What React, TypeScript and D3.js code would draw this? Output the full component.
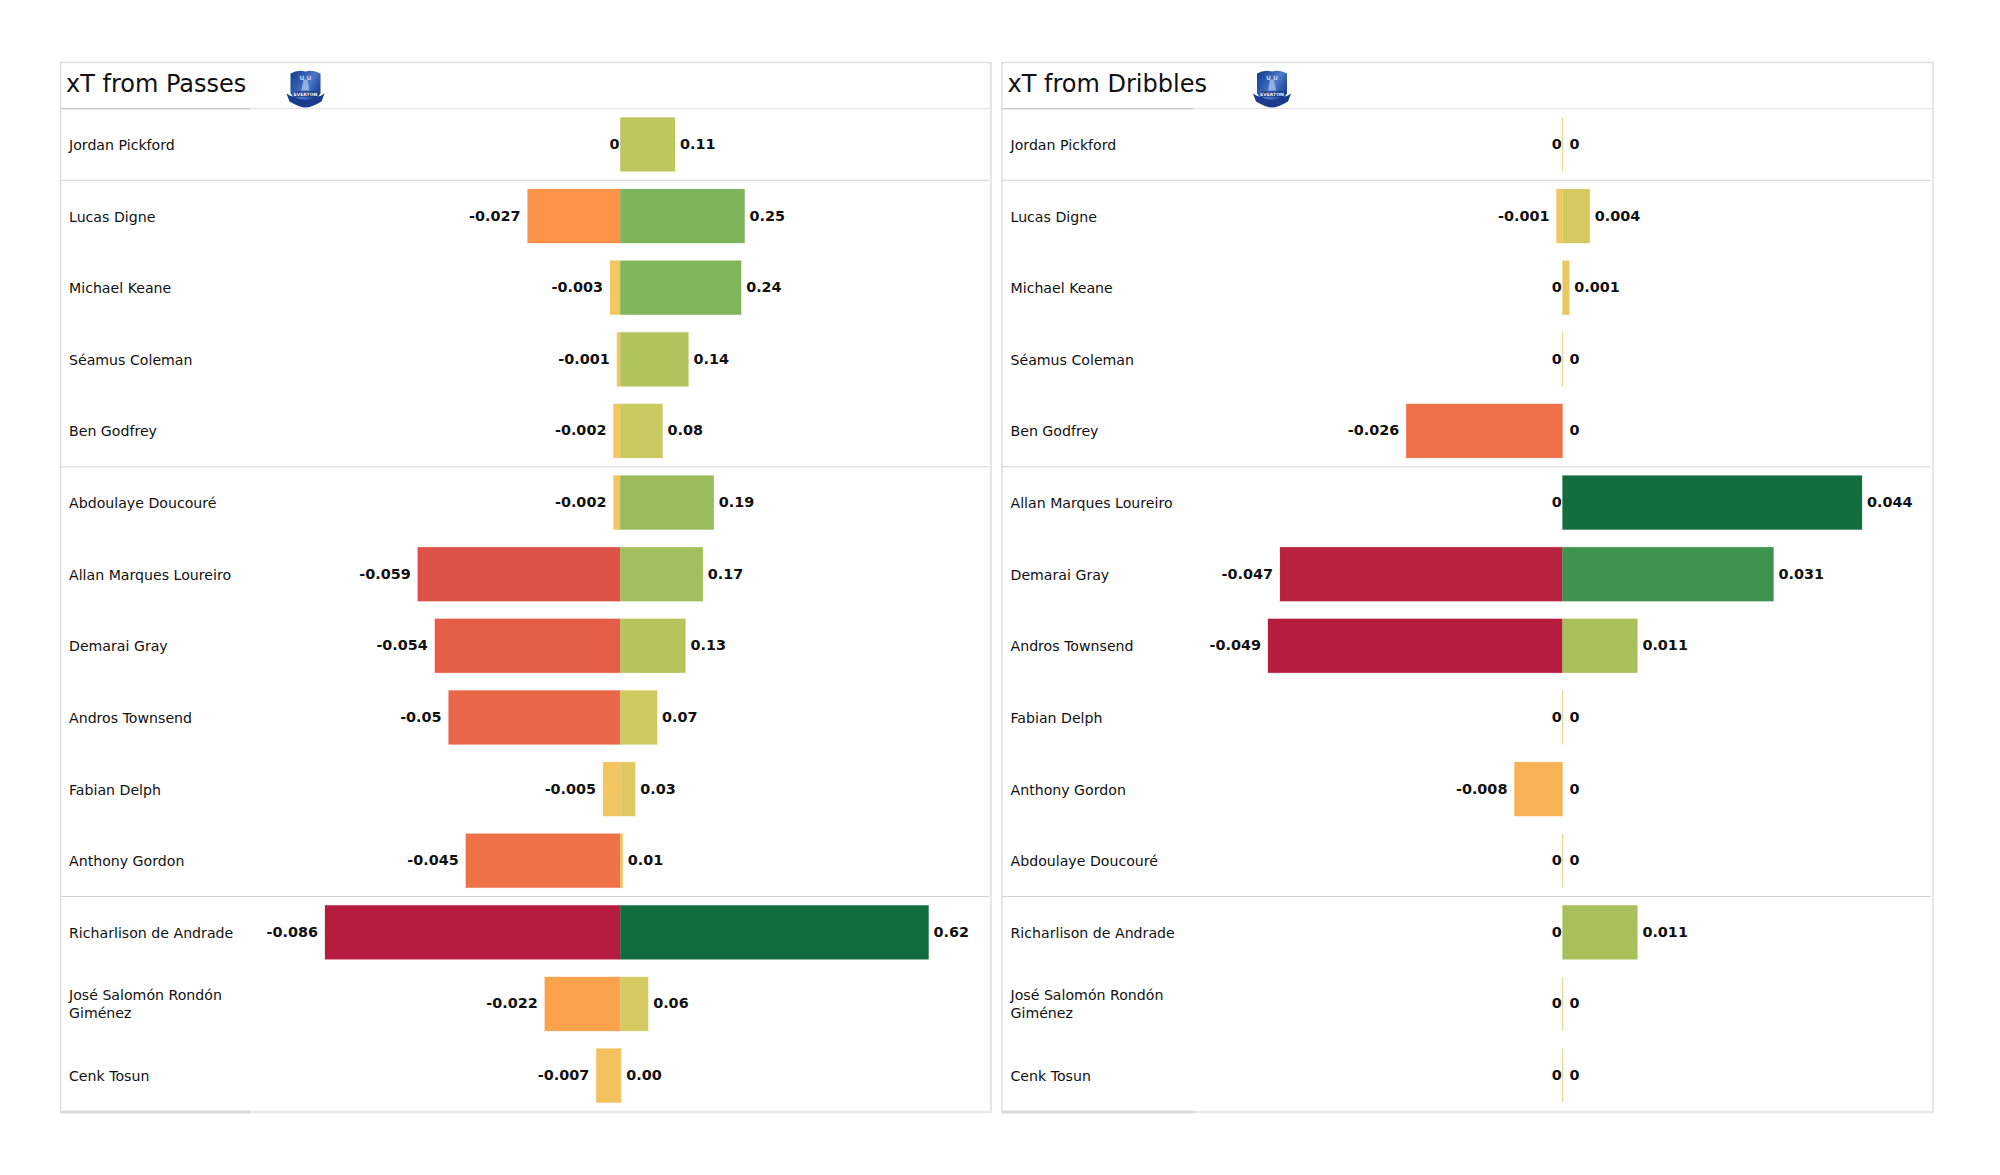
import React, { useEffect, useRef } from 'react';
import * as d3 from 'd3';

const passNames = [
  'Jordan Pickford', 'Lucas Digne', 'Michael Keane', 'Séamus Coleman', 'Ben Godfrey',
  'Abdoulaye Doucouré', 'Allan Marques Loureiro', 'Demarai Gray', 'Andros Townsend',
  'Fabian Delph', 'Anthony Gordon', 'Richarlison de Andrade', 'José Salomón Rondón Giménez', 'Cenk Tosun',
];
const passNeg = [0, -0.027, -0.003, -0.001, -0.002, -0.002, -0.059, -0.054, -0.05, -0.005, -0.045, -0.086, -0.022, -0.007];
const passPos = [0.11, 0.25, 0.243, 0.137, 0.085, 0.188, 0.166, 0.131, 0.074, 0.03, 0.005, 0.62, 0.056, 0.002];
const passPosLabels = ['0.11', '0.25', '0.24', '0.14', '0.08', '0.19', '0.17', '0.13', '0.07', '0.03', '0.01', '0.62', '0.06', '0.00'];

const dribbleNames = [
  'Jordan Pickford', 'Lucas Digne', 'Michael Keane', 'Séamus Coleman', 'Ben Godfrey',
  'Allan Marques Loureiro', 'Demarai Gray', 'Andros Townsend', 'Fabian Delph',
  'Anthony Gordon', 'Abdoulaye Doucouré', 'Richarlison de Andrade', 'José Salomón Rondón Giménez', 'Cenk Tosun',
];
const dribbleNeg = [0, -0.001, 0, 0, -0.026, 0, -0.047, -0.049, 0, -0.008, 0, 0, 0, 0];
const dribblePos = [0, 0.004, 0.001, 0, 0, 0.044, 0.031, 0.011, 0, 0, 0, 0.011, 0, 0];
const dribblePosLabels = dribblePos.map(String);

// rows after which a divider is drawn
const groupEnds = [0, 4, 10];

const negStops = [0, 0.1, 0.16, 0.26, 0.31, 0.53, 0.69, 1];
const negColors = ['#f2c862', '#f3c15e', '#f6b355', '#fba14f', '#fd9349', '#ee7048', '#de5147', '#b51c3e'];
const posStops = [0, 0.05, 0.1, 0.13, 0.21, 0.25, 0.4, 0.7, 1];
const posColors = ['#f1c760', '#e0c962', '#d2c961', '#ccca60', '#b5c45d', '#a8bf5c', '#7fb45a', '#3f954f', '#116d3b'];

const font = '"DejaVu Sans", sans-serif';

const drawCrest = (g: any, cx: number, cy: number) => {
  const crest = g.append('g').attr('transform', `translate(${cx},${cy})`);
  const gradId = `crest-${cx}`;
  const grad = crest.append('linearGradient').attr('id', gradId)
    .attr('x1', '0%').attr('y1', '0%').attr('x2', '100%').attr('y2', '60%');
  grad.append('stop').attr('offset', '0%').attr('stop-color', '#123a8e');
  grad.append('stop').attr('offset', '65%').attr('stop-color', '#4a78c6');
  grad.append('stop').attr('offset', '100%').attr('stop-color', '#1a3f96');

  crest.append('path')
    .attr('d', 'M-15,-15 Q-8,-19 0,-17 Q8,-19 15,-15 L15,5 Q12,11 0,14 Q-12,11 -15,5 Z')
    .attr('fill', `url(#${gradId})`);
  crest.append('path')
    .attr('d', 'M-19,5 Q-15,8 -12,8 Q0,15 12,8 Q15,8 19,5 L16,13 Q6,19 0,19 Q-6,19 -16,13 Z')
    .attr('fill', '#1b3c8c');
  crest.append('path')
    .attr('d', 'M-2,-9 L2,-9 L4,2 L-4,2 Z')
    .attr('fill', '#8fb0e0');
  crest.append('rect')
    .attr('x', -11).attr('y', 3).attr('width', 22).attr('height', 5)
    .attr('fill', '#0f2a75');
  crest.append('text')
    .attr('y', 7).attr('text-anchor', 'middle')
    .attr('font-family', font).attr('font-size', 4.5).attr('font-weight', 'bold')
    .attr('fill', '#ffffff').text('EVERTON');
  crest.append('text')
    .attr('y', -9).attr('text-anchor', 'middle')
    .attr('font-family', font).attr('font-size', 6).attr('font-weight', 'bold')
    .attr('fill', '#c7d8f0').text('U   U');
};

export default function App() {
  const svgRef = useRef<SVGSVGElement>(null);

  useEffect(() => {
    if (!svgRef.current) return;
    const svg = d3.select(svgRef.current);
    svg.selectAll('*').remove();

    const negColor = d3.scaleLinear<string>().domain(negStops).range(negColors).clamp(true);
    const posColor = d3.scaleLinear<string>().domain(posStops).range(posColors).clamp(true);

    const rows = d3.scaleBand<number>()
      .domain(d3.range(14))
      .range([108.6, 1111.4]);
    const barH = 54;

    const drawPanel = (p: any) => {
      const g = svg.append('g');
      const negX = d3.scaleLinear().domain([d3.min(p.neg) as number, 0]).range([p.negEnd, p.zero]);
      const posX = d3.scaleLinear().domain([0, d3.max(p.pos) as number]).range([p.zero, p.posEnd]);
      const negMax = Math.abs(d3.min(p.neg) as number);
      const posMax = d3.max(p.pos) as number;

      // frame
      g.append('rect')
        .attr('x', p.left).attr('y', 62.5)
        .attr('width', p.right - p.left).attr('height', 1049.5)
        .attr('fill', '#fff').attr('stroke', '#dcdcdc').attr('stroke-width', 1.4);

      g.append('line')
        .attr('x1', p.left).attr('x2', p.right).attr('y1', 108.6).attr('y2', 108.6)
        .attr('stroke', '#e6e6e6').attr('stroke-width', 1.2);
      g.append('line')
        .attr('x1', p.left).attr('x2', p.headerEnd).attr('y1', 108.6).attr('y2', 108.6)
        .attr('stroke', '#c8c8c8').attr('stroke-width', 1.2);

      g.append('line')
        .attr('x1', p.left).attr('x2', p.right).attr('y1', 1112).attr('y2', 1112)
        .attr('stroke', '#e8e8e8').attr('stroke-width', 2.6);
      g.append('line')
        .attr('x1', p.left).attr('x2', p.headerEnd).attr('y1', 1112).attr('y2', 1112)
        .attr('stroke', '#d8d8d8').attr('stroke-width', 2.6);

      groupEnds.forEach(i => {
        const y = (rows(i) as number) + rows.bandwidth();
        g.append('line')
          .attr('x1', p.left).attr('x2', p.right - 2).attr('y1', y).attr('y2', y)
          .attr('stroke', '#d2d2d2').attr('stroke-width', 1.2);
      });

      g.append('text')
        .attr('x', p.left + 5.5).attr('y', 92)
        .attr('font-family', font).attr('font-size', 24).attr('fill', '#111')
        .text(p.title);

      drawCrest(g, p.crestX, 88.5);

      p.names.forEach((name: string, i: number) => {
        const cy = (rows(i) as number) + rows.bandwidth() / 2;
        const label = g.append('text')
          .attr('x', p.left + 8.5)
          .attr('font-family', font).attr('font-size', 14.15).attr('fill', '#111');
        if (name.length > 24) {
          const split = name.lastIndexOf(' ');
          label.append('tspan').attr('x', p.left + 8.5).attr('y', cy - 3.5).text(name.slice(0, split));
          label.append('tspan').attr('x', p.left + 8.5).attr('y', cy + 14).text(name.slice(split + 1));
        } else {
          label.attr('y', cy + 5.5).text(name);
        }

        const nv = p.neg[i];
        const pv = p.pos[i];
        const barY = cy - barH / 2;

        const bar = (x0: number, x1: number, fill: string) => {
          g.append('rect')
            .attr('x', x0).attr('y', barY)
            .attr('width', x1 - x0).attr('height', barH)
            .attr('fill', fill)
            .attr('stroke', fill).attr('stroke-opacity', 0.3).attr('stroke-width', 0.8);
        };

        if (nv === 0 && pv === 0) {
          g.append('rect')
            .attr('x', p.zero - 0.6).attr('y', barY)
            .attr('width', 1.4).attr('height', barH)
            .attr('fill', '#e9dc94');
        }
        if (nv < 0) bar(negX(nv), p.zero, negColor(Math.abs(nv) / negMax));
        if (pv > 0) bar(p.zero, posX(pv), posColor(pv / posMax));

        const value = (x: number, anchor: string, txt: string) => {
          g.append('text')
            .attr('x', x).attr('y', cy + 4.5)
            .attr('text-anchor', anchor)
            .attr('font-family', font).attr('font-size', 14.4).attr('font-weight', 'bold').attr('fill', '#111')
            .text(txt);
        };
        value(nv < 0 ? negX(nv) - 7 : p.zero - 0.8, 'end', String(nv));
        value(pv > 0 ? posX(pv) + 5 : p.zero + 7, 'start', p.posLabels[i]);
      });
    };

    drawPanel({
      title: 'xT from Passes', names: passNames, neg: passNeg, pos: passPos, posLabels: passPosLabels,
      left: 60.5, right: 991, headerEnd: 250, crestX: 305.5, zero: 620.3, negEnd: 325, posEnd: 928.6,
    });
    drawPanel({
      title: 'xT from Dribbles', names: dribbleNames, neg: dribbleNeg, pos: dribblePos, posLabels: dribblePosLabels,
      left: 1002, right: 1933, headerEnd: 1193, crestX: 1272, zero: 1562.5, negEnd: 1268, posEnd: 1862,
    });
  }, []);

  return (
    <svg
      ref={svgRef}
      width={2000}
      height={1175}
      style={{ position: 'absolute', left: 0, top: 0, background: '#fff' }}
    />
  );
}
